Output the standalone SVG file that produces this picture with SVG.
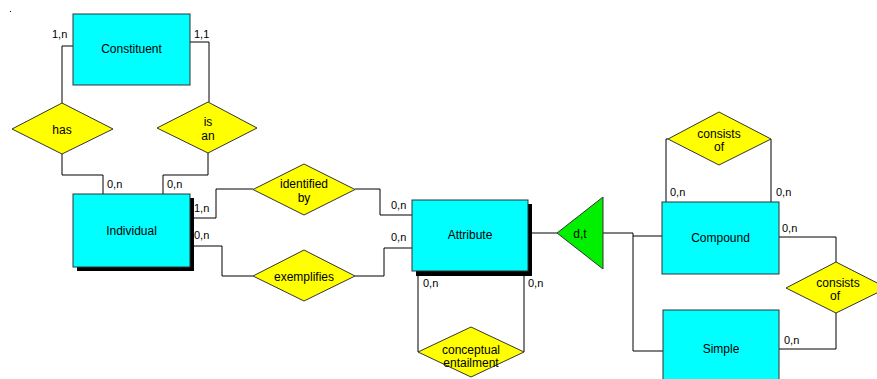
<svg xmlns="http://www.w3.org/2000/svg" width="877" height="379" viewBox="0 0 877 379">
<style>
.ent{fill:#00FFFF;stroke:#333;stroke-width:1}
.shadow{fill:#000}
.rel{fill:#FFFF00;stroke:#333;stroke-width:1}
.isa{fill:#00F000;stroke:#333;stroke-width:1}
.c{fill:none;stroke:#000;stroke-width:1}
text{font-family:"Liberation Sans",Arial,sans-serif;fill:#000}
.t{font-size:12px;text-anchor:middle}
.l{font-size:11px}
</style>
<rect x="0" y="0" width="877" height="379" fill="#fff"/>
<rect x="10" y="11" width="1" height="1" fill="#000"/>
<g id="connectors">
<polyline class="c" points="73,46 62,46 62,103"/>
<polyline class="c" points="190,42 209,42 209,102"/>
<polyline class="c" points="62,154 62,175 103,175 103,194"/>
<polyline class="c" points="208,153 208,175 163,175 163,194"/>
<polyline class="c" points="190,218 216,218 216,189 253,189"/>
<polyline class="c" points="355,189 380,189 380,215 412,215"/>
<polyline class="c" points="190,246 222,246 222,276 253,276"/>
<polyline class="c" points="355,276 384,276 384,248 412,248"/>
<polyline class="c" points="418,276 418,352"/>
<polyline class="c" points="524,276 524,352"/>
<polyline class="c" points="528,233 557,233"/>
<polyline class="c" points="603,233 633,233 633,351 663,351"/>
<polyline class="c" points="633,236 662,236"/>
<polyline class="c" points="666,202 666,139 668,139"/>
<polyline class="c" points="771,139 771,202"/>
<polyline class="c" points="779,237 836,237 836,262"/>
<polyline class="c" points="836,313 836,349 779,349"/>
</g>
<g id="labels">
<text class="l" x="52" y="38">1,n</text>
<text class="l" x="194" y="38">1,1</text>
<text class="l" x="107" y="188">0,n</text>
<text class="l" x="167" y="188">0,n</text>
<text class="l" x="194" y="212">1,n</text>
<text class="l" x="194" y="239">0,n</text>
<text class="l" x="391" y="209">0,n</text>
<text class="l" x="391" y="241">0,n</text>
<text class="l" x="423" y="287">0,n</text>
<text class="l" x="528" y="287">0,n</text>
<text class="l" x="670" y="196">0,n</text>
<text class="l" x="776" y="196">0,n</text>
<text class="l" x="782" y="232">0,n</text>
<text class="l" x="784" y="344">0,n</text>
</g>
<g id="constituent">
<rect class="ent" x="73" y="14" width="117" height="71"/>
<text class="t" x="131.5" y="53">Constituent</text>
</g>
<g id="has">
<polygon class="rel" points="12,129 62,103 113,129 62,154"/>
<text class="t" x="62" y="134">has</text>
</g>
<g id="is-an">
<polygon class="rel" points="157,128 208,102 257,128 208,153"/>
<text class="t" x="208" y="126">is</text>
<text class="t" x="208" y="140">an</text>
</g>
<g id="individual">
<rect class="shadow" x="77" y="198" width="117" height="73"/>
<rect class="ent" x="73" y="194" width="117" height="73"/>
<text class="t" x="131.5" y="235">Individual</text>
</g>
<g id="identified-by">
<polygon class="rel" points="253,189.5 304,164 355,189.5 304,215"/>
<text class="t" x="304" y="188">identified</text>
<text class="t" x="304" y="202">by</text>
</g>
<g id="exemplifies">
<polygon class="rel" points="253,276 304,250 355,276 304,301"/>
<text class="t" x="304" y="281">exemplifies</text>
</g>
<g id="attribute">
<rect class="shadow" x="416" y="204" width="116" height="72"/>
<rect class="ent" x="412" y="200" width="116" height="71"/>
<text class="t" x="470" y="239">Attribute</text>
</g>
<g id="conceptual-entailment">
<polygon class="rel" points="418,352 471,327 524,352 471,377"/>
<text class="t" x="471" y="354">conceptual</text>
<text class="t" x="471" y="367">entailment</text>
</g>
<g id="dt">
<polygon class="isa" points="557,233 603,197 603,269"/>
<text class="t" x="580" y="238">d,t</text>
</g>
<g id="compound">
<rect class="ent" x="662" y="202" width="117" height="72"/>
<text class="t" x="720.5" y="242">Compound</text>
</g>
<g id="consists-of-top">
<polygon class="rel" points="668,139 719,112 771,139 719,165"/>
<text class="t" x="719" y="138">consists</text>
<text class="t" x="719" y="151">of</text>
</g>
<g id="consists-of-right">
<polygon class="rel" points="786,288 836,262 887,288 836,313"/>
<text class="t" x="838" y="287">consists</text>
<text class="t" x="835" y="300">of</text>
</g>
<g id="simple">
<rect class="ent" x="663" y="310" width="116" height="80"/>
<text class="t" x="721" y="353">Simple</text>
</g>
</svg>
